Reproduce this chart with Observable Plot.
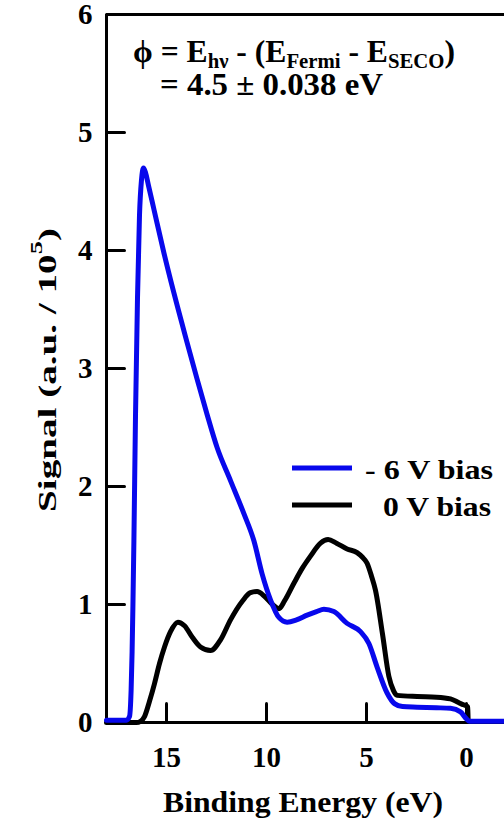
<!DOCTYPE html>
<html>
<head>
<meta charset="utf-8">
<script src="https://cdn.jsdelivr.net/npm/d3@7"></script>
<script src="https://cdn.jsdelivr.net/npm/@observablehq/plot@0.6"></script>
<style>
  body { margin: 0; background: #fff; }
  #chart svg { display: block; }
  #chart text { white-space: pre; }
</style>
</head>
<body>
<div id="chart"></div>
<script>
// Secondary-electron spectra, binding energy (eV) vs signal (a.u. / 1e5)
const energyNeg6 = [18.0, 17.5, 17.0, 16.85, 16.77, 16.72, 16.68, 16.63, 16.55, 16.45, 16.35, 16.25, 16.15, 16.05, 15.9, 15.63, 15.13, 14.63, 13.97, 13.47, 12.97, 12.47, 11.8, 11.13, 10.63, 10.22, 9.8, 9.38, 8.97, 8.5, 7.97, 7.5, 7.13, 6.63, 5.97, 5.3, 4.88, 4.47, 3.97, 3.6, 3.2, 2.47, 1.5, 0.8, 0.3, 0.0, -0.15, -1.9];
const signalNeg6 = [0.02, 0.02, 0.02, 0.05, 0.27, 0.6, 0.98, 1.54, 2.6, 3.6, 4.3, 4.6, 4.7, 4.66, 4.55, 4.35, 3.98, 3.64, 3.22, 2.91, 2.61, 2.33, 2.05, 1.77, 1.54, 1.26, 1.04, 0.89, 0.85, 0.87, 0.91, 0.94, 0.96, 0.94, 0.84, 0.77, 0.67, 0.47, 0.25, 0.16, 0.135, 0.13, 0.125, 0.12, 0.09, 0.03, 0.01, 0.01];

const energy0 = [18.0, 16.5, 16.3, 16.1, 15.85, 15.6, 15.35, 15.1, 14.8, 14.43, 14.1, 13.7, 13.3, 12.8, 12.3, 11.8, 11.2, 10.8, 10.47, 10.1, 9.7, 9.38, 9.1, 8.63, 8.2, 7.8, 7.3, 6.92, 6.5, 5.97, 5.47, 5.2, 4.97, 4.75, 4.55, 4.2, 3.88, 3.65, 3.47, 2.47, 1.5, 0.8, 0.4, 0.15, 0.0, -0.06, -0.08];
const signal0 = [0.0, 0.0, 0.01, 0.05, 0.18, 0.33, 0.5, 0.64, 0.77, 0.85, 0.82, 0.72, 0.64, 0.61, 0.7, 0.87, 1.03, 1.1, 1.11, 1.07, 1.0, 0.965, 1.03, 1.18, 1.31, 1.41, 1.52, 1.55, 1.52, 1.47, 1.44, 1.4, 1.35, 1.24, 1.12, 0.75, 0.39, 0.27, 0.23, 0.22, 0.215, 0.2, 0.17, 0.15, 0.14, 0.13, 0.03];

const xTicks = [15, 10, 5, 0];
const yTicks = [0, 1, 2, 3, 4, 5, 6];
const seriesNames = ["- 6 V bias", "0 V bias"];
const seriesColors = ["#0808ec", "#000000"];

const negBias = energyNeg6.map((e, i) => ({energy: e, signal: signalNeg6[i]}));
const zeroBias = energy0.map((e, i) => ({energy: e, signal: signal0[i]}));

const serif = "'Liberation Serif', 'Times New Roman', serif";

// Inward-pointing tick shapes for the vector marks
const tickUp = {draw(ctx, l) { ctx.moveTo(0, 0); ctx.lineTo(0, -l); }};
const tickRight = {draw(ctx, l) { ctx.moveTo(0, 0); ctx.lineTo(l, 0); }};

const plot = Plot.plot({
  width: 504,
  height: 824,
  marginTop: 14,
  marginRight: 0,
  marginBottom: 102,
  marginLeft: 106,
  style: {fontFamily: serif, fontWeight: "bold", fontSize: "29px", background: "white", color: "black"},
  x: {domain: [18, -1.9], label: null},
  y: {domain: [0, 6], label: null},
  marks: [
    Plot.ruleY([0], {strokeWidth: 3}),
    Plot.ruleY([6], {strokeWidth: 3}),
    Plot.ruleX([18], {strokeWidth: 3}),
    Plot.vector(xTicks, {x: d => d, y: 0, length: 19, anchor: "start", shape: tickUp, stroke: "black", strokeWidth: 3}),
    Plot.vector(yTicks, {x: 18, y: d => d, length: 18, anchor: "start", shape: tickRight, stroke: "black", strokeWidth: 3}),
    Plot.axisX(xTicks, {tickSize: 0, tickPadding: 24, tickFormat: d3.format("d"), label: null}),
    Plot.axisY(yTicks, {tickSize: 0, tickPadding: 14, tickFormat: d3.format("d"), label: null}),
    Plot.line(zeroBias, {x: "energy", y: "signal", stroke: seriesColors[1], strokeWidth: 5, curve: "monotone-x", strokeLinejoin: "round"}),
    Plot.line(negBias, {x: "energy", y: "signal", stroke: seriesColors[0], strokeWidth: 5, curve: "monotone-x", strokeLinejoin: "round"})
  ]
});

document.getElementById("chart").appendChild(plot);

const svg = d3.select(plot);
const deco = svg.append("g")
  .attr("font-family", serif)
  .attr("font-weight", "bold")
  .attr("text-anchor", "start")
  .attr("fill", "black");

// Work-function formula
const line1 = deco.append("text")
  .attr("x", 133).attr("y", 62)
  .attr("font-size", 32)
  .attr("textLength", 322).attr("lengthAdjust", "spacingAndGlyphs");
const parts = [["ϕ = E", false], ["hν", true], [" - (E", false], ["Fermi", true], [" - E", false], ["SECO", true], [")", false]];
let lowered = false;
for (const [t, sub] of parts) {
  const ts = line1.append("tspan").text(t);
  if (sub) {
    ts.attr("font-size", 21);
    if (!lowered) { ts.attr("dy", 6); lowered = true; }
  } else if (lowered) {
    ts.attr("dy", -6); lowered = false;
  }
}
deco.append("text")
  .attr("x", 160).attr("y", 95)
  .attr("font-size", 32)
  .attr("textLength", 223).attr("lengthAdjust", "spacingAndGlyphs")
  .text("= 4.5 ± 0.038 eV");

// Legend
const legendRows = [
  {y: 468, textX: 365, textLen: 128},
  {y: 505, textX: 383, textLen: 108}
];
legendRows.forEach((r, i) => {
  deco.append("line")
    .attr("x1", 292).attr("x2", 352)
    .attr("y1", r.y).attr("y2", r.y)
    .attr("stroke", seriesColors[i]).attr("stroke-width", 5);
  deco.append("text")
    .attr("x", r.textX).attr("y", r.y + 11)
    .attr("font-size", 28)
    .attr("textLength", r.textLen).attr("lengthAdjust", "spacingAndGlyphs")
    .text(seriesNames[i]);
});

// Axis titles
deco.append("text")
  .attr("x", 163).attr("y", 812)
  .attr("font-size", 30)
  .attr("textLength", 280).attr("lengthAdjust", "spacingAndGlyphs")
  .text("Binding Energy (eV)");

const yTitle = deco.append("text")
  .attr("transform", "translate(56,512) rotate(-90)")
  .attr("font-size", 25)
  .attr("textLength", 284).attr("lengthAdjust", "spacingAndGlyphs");
yTitle.append("tspan").text("Signal (a.u. / 10");
yTitle.append("tspan").attr("dy", -14).attr("font-size", 17).text("5");
yTitle.append("tspan").attr("dy", 14).text(")");
</script>
</body>
</html>
